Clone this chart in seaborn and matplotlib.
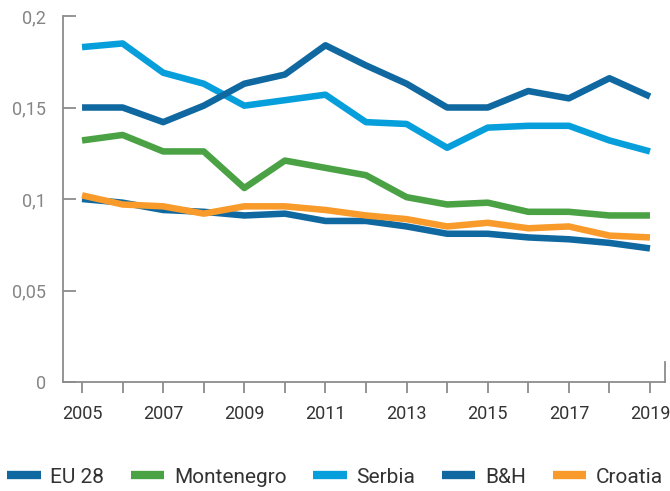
import pandas as pd
import numpy as np
import matplotlib.pyplot as plt
import seaborn as sns
from matplotlib.lines import Line2D

years = list(range(2005, 2020))
eu28 = [0.100, 0.098, 0.094, 0.093, 0.091, 0.092, 0.088, 0.088, 0.085, 0.081, 0.081, 0.079, 0.078, 0.076, 0.073]
montenegro = [0.132, 0.135, 0.126, 0.126, 0.106, 0.121, 0.117, 0.113, 0.101, 0.097, 0.098, 0.093, 0.093, 0.091, 0.091]
serbia = [0.183, 0.185, 0.169, 0.163, 0.151, 0.154, 0.157, 0.142, 0.141, 0.128, 0.139, 0.140, 0.140, 0.132, 0.126]
bh = [0.150, 0.150, 0.142, 0.151, 0.163, 0.168, 0.184, 0.173, 0.163, 0.150, 0.150, 0.159, 0.155, 0.166, 0.156]
croatia = [0.102, 0.097, 0.096, 0.092, 0.096, 0.096, 0.094, 0.091, 0.089, 0.085, 0.087, 0.084, 0.085, 0.080, 0.079]

countries = ['EU 28', 'Montenegro', 'Serbia', 'B&H', 'Croatia']
colors = ['#1068a0', '#4aa244', '#069fdb', '#1068a0', '#f89b2b']

df = pd.DataFrame({'EU 28': eu28, 'Montenegro': montenegro, 'Serbia': serbia,
                   'B&H': bh, 'Croatia': croatia}, index=years)
long = df.reset_index(names='year').melt(id_vars='year', var_name='country', value_name='value')

sns.set_style('white')
plt.rcParams['font.family'] = ['Roboto', 'DejaVu Sans']

fig = plt.figure(figsize=(6.7, 4.91), dpi=100)
ax = fig.add_axes([0.094, 0.222, 0.8985, 0.7454])
sns.lineplot(data=long, x='year', y='value', hue='country', hue_order=countries,
             palette=dict(zip(countries, colors)), linewidth=4.7, legend=False, ax=ax)
for ln in ax.lines:
    ln.set_solid_capstyle('butt')

ax.set_xlim(2004.53, 2019.37)
ax.set_ylim(0, 0.2)
ax.set_xticks(years)
ax.set_xticklabels([str(y) if y % 2 == 1 else '' for y in years])
ax.set_yticks([0, 0.05, 0.1, 0.15, 0.2])
ax.set_yticklabels(['0', '0,05', '0,1', '0,15', '0,2'])
ax.set_xlabel('')
ax.set_ylabel('')

gray = '#8c8c8c'
ax.spines['top'].set_visible(False)
for s in ['left', 'bottom', 'right']:
    ax.spines[s].set_color(gray)
    ax.spines[s].set_linewidth(1.3)
ax.spines['right'].set_bounds(0, 0.011)
ax.tick_params(axis='y', left=True, right=False, direction='in', length=9.5, width=1.3,
               color=gray, labelsize=13, labelcolor='#858585', pad=12)
ax.tick_params(axis='x', bottom=True, direction='out', length=8, width=1.3, color=gray,
               labelsize=13, labelcolor='#333333', pad=8.5)

handles = [Line2D([0], [0], color=c, lw=6, solid_capstyle='butt') for c in colors]
fig.legend(handles, countries, loc='center', bbox_to_anchor=(0.5, 0.028), ncol=5,
           frameon=False, fontsize=15, handlelength=1.6, handletextpad=0.45,
           columnspacing=1.3, labelcolor='#333333')

fig.savefig('out.png', dpi=100)
